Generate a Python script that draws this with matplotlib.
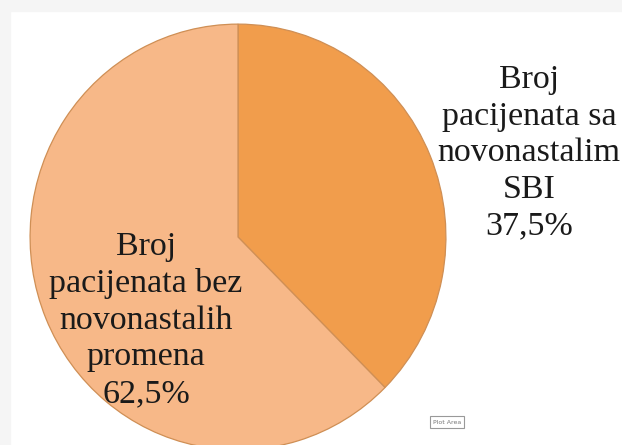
# Pie chart - SBI kod pacijenata

import matplotlib.pyplot as plt
from matplotlib.patches import Rectangle

# Data
labels = ['Broj\npacijenata sa\nnovonastalim\nSBI', 'Broj\npacijenata bez\nnovonastalih\npromena']
values = [37.5, 62.5]
colors = ['#f19d4c', '#f7b888']

W, H = 622, 445
fig = plt.figure(figsize=(W / 100, H / 100), dpi=100)

# light gray frame at top and left, like the screenshot
fig.patches.append(Rectangle((0, 1 - 11 / H), 1, 11 / H, transform=fig.transFigure,
                             color='#f5f5f5', zorder=0))
fig.patches.append(Rectangle((0, 0), 10 / W, 1, transform=fig.transFigure,
                             color='#f5f5f5', zorder=0))

# axes placed so that the unit circle becomes the (slightly tall) ellipse
ax = fig.add_axes([28 / W, 1 - 452 / H, 420 / W, 430 / H])
ax.pie(values, colors=colors, startangle=90, counterclock=False,
       wedgeprops=dict(edgecolor='#cf8f55', linewidth=0.9))
ax.set_xlim(-1.01, 1.01)
ax.set_ylim(-1.01, 1.01)
ax.set_aspect('auto')
ax.axis('off')

# slice labels
def lbl(i):
    return labels[i] + '\n' + f'{values[i]:.1f}%'.replace('.', ',')

fig.text(529 / W, 1 - 153 / H, lbl(0), ha='center', va='center',
         family='Liberation Serif', fontsize=24.5, linespacing=1.26, color='#1a1a1a')
fig.text(146 / W, 1 - 320 / H, lbl(1), ha='center', va='center',
         family='Liberation Serif', fontsize=24.5, linespacing=1.26, color='#1a1a1a')

# "Plot Area" tooltip
fig.text(447 / W, 1 - 422 / H, 'Plot Area', ha='center', va='center', fontsize=4.5,
         color='#777777',
         bbox=dict(boxstyle='square,pad=0.5', facecolor='white', edgecolor='#999999', linewidth=0.8))

fig.savefig('out.png', dpi=100)
